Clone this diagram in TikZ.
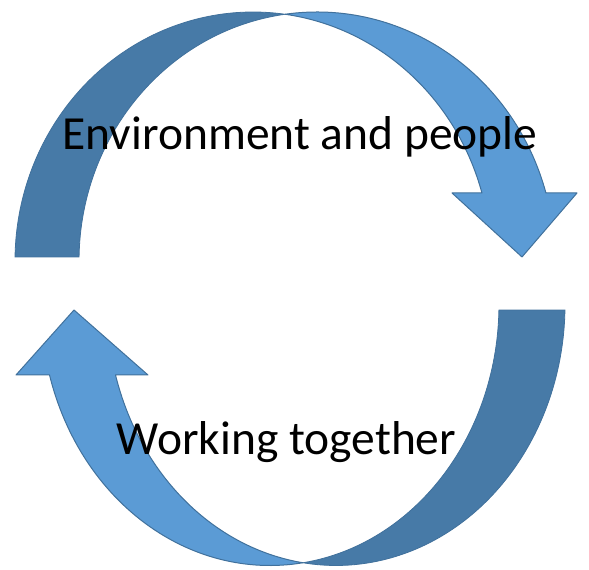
\documentclass[tikz,border=0pt]{standalone}
\usepackage{fontspec}
\setmainfont{Carlito}
\usetikzlibrary{calc}

\definecolor{bandlight}{RGB}{91,155,213}
\definecolor{banddark}{RGB}{71,122,167}
\definecolor{bandline}{RGB}{65,113,156}

\begin{document}
\begin{tikzpicture} [x = 1pt, y = 1pt,
  front/.style = {fill = bandlight, draw = bandline, line width = 1pt, line join = round},
  back/.style = {fill = banddark, draw = bandline, line width = .8pt},
  looptext/.style = {font = \fontsize{47.5}{57}\selectfont, inner sep = 0pt, anchor = base}]
\useasboundingbox (0,0) rectangle (589,570);
% upper arrow
\draw[back] ([shift = {(253,309)}]179.08:238 and 249)
  arc[start angle = 179.08, end angle = 82.27, x radius = 238, y radius = 249]
  arc[start angle = 97.73, end angle = 179.08, x radius = 238, y radius = 249] -- cycle;
\draw[front] ([shift = {(317,309)}]97.73:238 and 249)
  arc[start angle = 97.73, end angle = 15.85, x radius = 238, y radius = 249]
  -- (577,377) -- (522,313) -- (452,377)
  -- ([shift = {(253,309)}]15.85:238 and 249)
  arc[start angle = 15.85, end angle = 82.27, x radius = 238, y radius = 249] -- cycle;
% lower arrow
\draw[back] ([shift = {(336,265.5)}]-1.21:229 and 261)
  arc[start angle = -1.21, end angle = -98.29, x radius = 229, y radius = 261]
  arc[start angle = -81.71, end angle = -1.21, x radius = 229, y radius = 261] -- cycle;
\draw[front] ([shift = {(270,265.5)}]-81.71:229 and 261)
  arc[start angle = -81.71, end angle = -164.33, x radius = 229, y radius = 261]
  -- (16,195) -- (74,260) -- (148,195)
  -- ([shift = {(336,265.5)}]195.67:229 and 261)
  arc[start angle = 195.67, end angle = 261.71, x radius = 229, y radius = 261] -- cycle;
\node[looptext] (env) at (300,420) {Environment and people};
\node[looptext] (work) at (286.5,115) {Working together};
\end{tikzpicture}
\end{document}
